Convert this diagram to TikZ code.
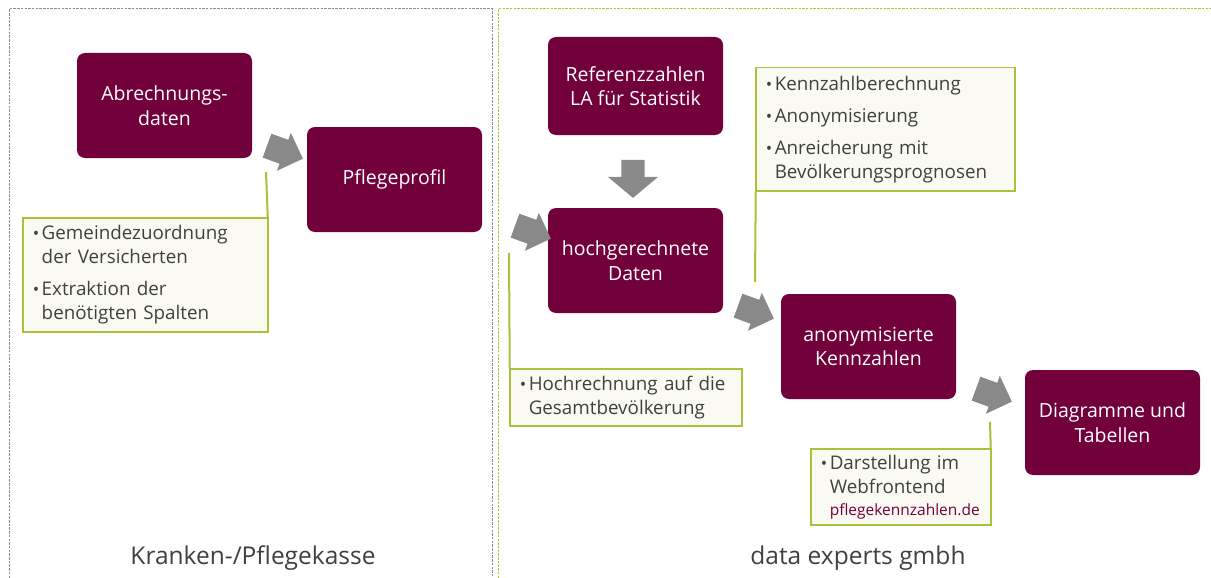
\documentclass[tikz,border=0pt]{standalone}
\usepackage{fontspec}
\setmainfont{Open Sans}
\usetikzlibrary{shapes.arrows}
\definecolor{maroon}{RGB}{114,0,58}
\definecolor{calfill}{RGB}{250,250,243}
\definecolor{calline}{RGB}{168,194,58}
\definecolor{arrgray}{RGB}{137,137,137}
\definecolor{txtgray}{RGB}{64,64,64}
\definecolor{framegray}{RGB}{140,140,140}
\definecolor{framegreen}{RGB}{176,198,50}
\newcommand{\bul}{\makebox[9pt][l]{\fontsize{17}{17}\selectfont\textbullet}}
\newcommand{\ind}{\hspace*{9pt}}
\tikzset{
  procbox/.style={fill=maroon, rounded corners=8pt, minimum width=175pt, minimum height=105pt,
    text=white, align=center, inner sep=4pt, font=\fontsize{19.5}{24.5}\selectfont},
  callout/.style={fill=calfill, draw=calline, line width=1.5pt, anchor=north west,
    align=left, inner xsep=10pt, inner ysep=4pt, text=txtgray, font=\fontsize{18.8}{24}\selectfont},
  calloutline/.style={draw=calline, line width=2pt},
  blockarrow/.style={single arrow, fill=arrgray, draw=none, inner sep=12.5pt,
    minimum height=37pt, single arrow head extend=7.5pt, rotate=-20},
  framelabel/.style={text=txtgray, font=\fontsize{24.5}{28}\selectfont}
}
\begin{document}
\begin{tikzpicture}[x=1pt,y=-1pt]
\useasboundingbox (0,0) rectangle (1211,578);
% frames
\draw[framegray, line width=1pt, dash pattern=on 2.5pt off 1.2pt] (9,578) -- (9,9) -- (492,9) -- (492,578);
\draw[framegreen, line width=1pt, dash pattern=on 2.5pt off 1.2pt] (498.5,578) -- (498.5,8.5) -- (1211,8.5);
% process boxes
\node[procbox] (abr) at (164.5,105.5) {Abrechnungs-\\daten};
\node[procbox] (pfl) at (394.5,179.5) {Pflegeprofil};
\node[procbox, minimum height=98pt] (ref) at (635.5,86) {Referenzzahlen\\LA für Statistik};
\node[procbox] (hoch) at (635.5,260.5) {hochgerechnete\\Daten};
\node[procbox] (anon) at (868.5,346.5) {anonymisierte\\Kennzahlen};
\node[procbox] (diag) at (1112.5,422.5) {Diagramme und\\Tabellen};
% block arrows
\node[blockarrow] (a1) at (279,150) {};
\node[blockarrow] (a2) at (527,230) {};
\node[blockarrow] (a3) at (750,310) {};
\node[blockarrow] (a4) at (988,393) {};
\node[single arrow, fill=arrgray, draw=none, inner sep=11.5pt, minimum height=38pt,
  single arrow head extend=13.5pt, single arrow tip angle=100, rotate=-90] (a5) at (633,174) {};
% callouts
\node[callout, minimum width=245pt, minimum height=114pt, text width=225pt] (c1) at (22,217)
  {\bul Gemeindezuordnung\\\ind der Versicherten\\[8pt]\bul Extraktion der\\\ind benötigten Spalten};
\node[callout, minimum width=232pt, minimum height=57pt, text width=212pt] (c2) at (509,368)
  {\bul Hochrechnung auf die\\\ind Gesamtbevölkerung};
\node[callout, minimum width=259pt, minimum height=123pt, text width=239pt] (c3) at (755,67)
  {\bul Kennzahlberechnung\\[8pt]\bul Anonymisierung\\[8pt]\bul Anreicherung mit\\\ind Bevölkerungsprognosen};
\node[callout, minimum width=180pt, minimum height=76pt, text width=160pt] (c4) at (810,448)
  {\bul Darstellung im\\\ind Webfrontend\\[-2pt]\ind\mbox{\color{maroon}\fontsize{15.5}{19}\selectfont pflegekennzahlen.de}};
% callout connectors
\coordinate (e1) at (266,172);
\coordinate (e2) at (509,253);
\coordinate (e3) at (755,282);
\coordinate (e4) at (990,422);
\draw[calloutline] ([xshift=-0.75pt]c1.north east) -- (e1);
\draw[calloutline] ([xshift=0.75pt]c2.north west) -- (e2);
\draw[calloutline] ([xshift=0.75pt]c3.south west) -- (e3);
\draw[calloutline] ([xshift=-0.75pt]c4.north east) -- (e4);
% frame labels
\node[framelabel] (l1) at (253,558) {Kranken-/Pflegekasse};
\node[framelabel] (l2) at (858,558) {data experts gmbh};
\end{tikzpicture}
\end{document}
